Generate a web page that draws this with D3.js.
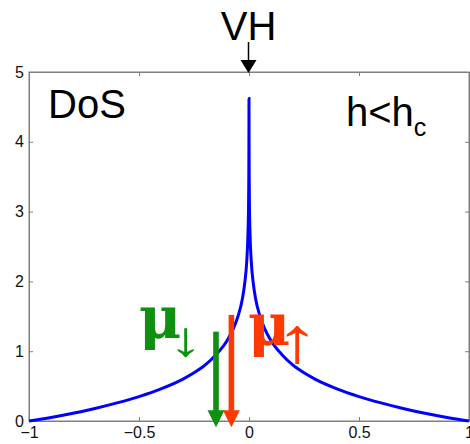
<!DOCTYPE html>
<html>
<head>
<meta charset="utf-8">
<script src="https://cdn.jsdelivr.net/npm/d3@7"></script>
<style>
  body { margin: 0; background: #fff; }
  svg text { font-family: Arial, "Liberation Sans", sans-serif; }
</style>
</head>
<body>
<div id="chart"></div>
<script>
// density of states
var energy = [-1, -0.9, -0.8, -0.7, -0.6, -0.5, -0.4, -0.3, -0.25, -0.2, -0.15, -0.1, -0.07, -0.05, -0.03, -0.02, -0.01, -0.005, -0.002, -0.001, -0.0005, -0.0002,
              0,
              0.0002, 0.0005, 0.001, 0.002, 0.005, 0.01, 0.02, 0.03, 0.05, 0.07, 0.1, 0.15, 0.2, 0.25, 0.3, 0.4, 0.5, 0.6, 0.7, 0.8, 0.9, 1];
var dos = [0, 0.05, 0.11, 0.18, 0.26, 0.35, 0.46, 0.6, 0.69, 0.8, 0.95, 1.15, 1.33, 1.5, 1.75, 1.96, 2.3, 2.65, 3.1, 3.45, 3.8, 4.26,
           4.62,
           4.26, 3.8, 3.45, 3.1, 2.65, 2.3, 1.96, 1.75, 1.5, 1.33, 1.15, 0.95, 0.8, 0.69, 0.6, 0.46, 0.35, 0.26, 0.18, 0.11, 0.05, 0];

var xTicks = [-1, -0.5, 0, 0.5, 1];
var yTicks = [0, 1, 2, 3, 4, 5];

// chemical potentials (spin down, spin up)
var muX = [-0.15, -0.08];
var muTop = [1.28, 1.52];
var muColor = ["#109010", "#ff3a00"];

var vanHove = 0;

var W = 470, H = 444;
var svg = d3.select("#chart").append("svg").attr("width", W).attr("height", H);

var x = d3.scaleLinear().domain([-1, 1]).range([29, 469]);
var y = d3.scaleLinear().domain([0, 5]).range([421, 72]);

// box
svg.append("rect")
  .attr("x", x(-1)).attr("y", y(5))
  .attr("width", x(1) - x(-1)).attr("height", y(0) - y(5))
  .attr("fill", "#fff").attr("stroke", "#7f7f7f").attr("stroke-width", 1);

var fmt = function(d) { return d === 0 ? "0" : (d < 0 ? "\u2212" : "") + Math.abs(d); };

var gx = svg.append("g").attr("transform", "translate(0," + y(0) + ")")
  .call(d3.axisBottom(x).tickValues(xTicks).tickFormat(fmt).tickSizeInner(-4).tickSizeOuter(0).tickPadding(6));
var gxt = svg.append("g").attr("transform", "translate(0," + y(5) + ")")
  .call(d3.axisTop(x).tickValues(xTicks).tickFormat("").tickSizeInner(-4).tickSizeOuter(0));
var gy = svg.append("g").attr("transform", "translate(" + x(-1) + ",0)")
  .call(d3.axisLeft(y).tickValues(yTicks).tickFormat(fmt).tickSizeInner(-4).tickSizeOuter(0).tickPadding(5));
var gyr = svg.append("g").attr("transform", "translate(" + x(1) + ",0)")
  .call(d3.axisRight(y).tickValues(yTicks).tickFormat("").tickSizeInner(-4).tickSizeOuter(0));

[gx, gxt, gy, gyr].forEach(function(g) {
  g.select(".domain").attr("stroke", "#7f7f7f");
  g.selectAll(".tick line").attr("stroke", "#7f7f7f");
  g.selectAll(".tick text").attr("fill", "#111").style("font-size", "16px");
});

// curve
var line = d3.line()
  .x(function(d, i) { return x(energy[i]); })
  .y(function(d) { return y(d); })
  .curve(d3.curveMonotoneX);
svg.append("path").datum(dos)
  .attr("d", line)
  .attr("fill", "none").attr("stroke", "#0000ff").attr("stroke-width", 3);

// mu arrows
muX.forEach(function(m, i) {
  var cx = x(m), top = y(muTop[i]), tip = y(-0.09), head = 17;
  svg.append("rect").attr("x", cx - 2.8).attr("y", top).attr("width", 5.6).attr("height", tip - head - top + 1)
    .attr("fill", muColor[i]);
  svg.append("path")
    .attr("d", "M" + (cx - 8.5) + "," + (tip - head) + "L" + (cx + 8.5) + "," + (tip - head) + "L" + cx + "," + tip + "Z")
    .attr("fill", muColor[i]);
});

// VH arrow
var vx = x(vanHove) - 0.5;
svg.append("line").attr("x1", vx).attr("x2", vx).attr("y1", 42).attr("y2", 61)
  .attr("stroke", "#000").attr("stroke-width", 1.5);
svg.append("path").attr("d", "M" + (vx - 8) + ",60L" + (vx + 8) + ",60L" + vx + ",73Z").attr("fill", "#000");

svg.append("text").attr("x", vx).attr("y", 40).attr("text-anchor", "middle")
  .style("font-size", "40px").text("VH");

svg.append("text").attr("x", 48).attr("y", 118).style("font-size", "40px").text("DoS");

var hc = svg.append("text").attr("x", 346).attr("y", 126).style("font-size", "40px");
hc.append("tspan").text("h<h");
hc.append("tspan").attr("dy", 10).style("font-size", "25px").text("c");

// mu labels
var muFont = "'DejaVu Serif', serif", arrFont = "'Liberation Sans', Arial, sans-serif";
function spinArrow(cx, base, size, ch, col) {
  svg.append("text").attr("x", cx).attr("y", base).attr("text-anchor", "middle").attr("fill", col)
    .attr("transform", "translate(" + cx + ",0) scale(1.4,1) translate(" + (-cx) + ",0)")
    .style("font-size", size + "px").style("font-family", arrFont).text(ch);
}
svg.append("text").attr("x", 139).attr("y", 338).attr("fill", muColor[0])
  .style("font-size", "58px").style("font-weight", "bold").style("font-family", muFont).text("\u03bc");
spinArrow(186, 356, 49, "\u2193", muColor[0]);

svg.append("text").attr("x", 248).attr("y", 345).attr("fill", muColor[1])
  .style("font-size", "58px").style("font-weight", "bold").style("font-family", muFont).text("\u03bc");
spinArrow(297, 362, 64, "\u2191", muColor[1]);
</script>
</body>
</html>
